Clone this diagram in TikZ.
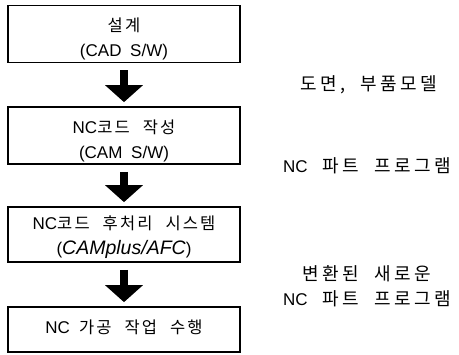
\documentclass[tikz,border=0pt]{standalone}
\usepackage{fontspec}
\setmainfont{Liberation Sans}
\newfontfamily\krfont[LetterSpace=13]{Noto Sans CJK KR}
\newfontfamily\krwide[LetterSpace=19]{Noto Sans CJK KR}
\newcommand{\K}[1]{{\krfont\fontsize{16.5}{25}\selectfont #1}}
\newcommand{\KW}[1]{{\krwide\fontsize{18}{25}\selectfont #1}}
\newcommand{\gap}{\hspace{13pt}}
\newcommand{\ngap}{\hspace{15pt}}
\usetikzlibrary{arrows.meta}
\begin{document}
\begin{tikzpicture}[x=1pt,y=-1pt,
  box/.style={draw,line width=1.7pt,minimum width=232pt,inner sep=0pt},
  txt/.style={inner sep=0pt,font=\fontsize{17}{25}\selectfont,align=center},
  flow/.style={line width=8pt,-{Triangle[width=37pt,length=17pt]},shorten <=7pt,shorten >=4pt},
  note/.style={font=\fontsize{17}{25}\selectfont,align=center}]
\useasboundingbox (0,0) rectangle (459,355);
\node[box,minimum height=57pt] (b1) at (124,34) {};
\node[box,minimum height=57pt] (b2) at (124,135.5) {};
\node[box,minimum height=55pt] (b3) at (124,234.5) {};
\node[box,minimum height=45pt] (b4) at (124,329.5) {};
\node[txt] (t1) at (124,38.5) {\K{설계}\\(CAD\hspace{4pt} S/W)};
\node[txt] (t2) at (124,140.5) {NC\K{코드}\gap\K{작성}\\(CAM\hspace{4pt} S/W)};
\node[txt] (t3) at (124,237.5) {NC\K{코드}\gap\K{후처리}\gap\K{시스템}\\({\fontsize{19.5}{25}\selectfont\itshape CAMplus/AFC})};
\node[txt] (t4) at (124,327.5) {NC\hspace{9pt}\K{가공}\gap\K{작업}\gap\K{수행}};
\draw[flow] (b1) -- (b2);
\draw[flow] (b2) -- (b3);
\draw[flow] (b3) -- (b4);
\node[note] (n1) at (369,85) {\KW{도면,}\ngap\KW{부품모델}};
\node[note] (n2) at (367,166) {NC\ngap\KW{파트}\ngap\KW{프로그램}};
\node[note] (n3) at (367,286) {\KW{변환된}\ngap\KW{새로운}\\NC\ngap\KW{파트}\ngap\KW{프로그램}};
\end{tikzpicture}
\end{document}
